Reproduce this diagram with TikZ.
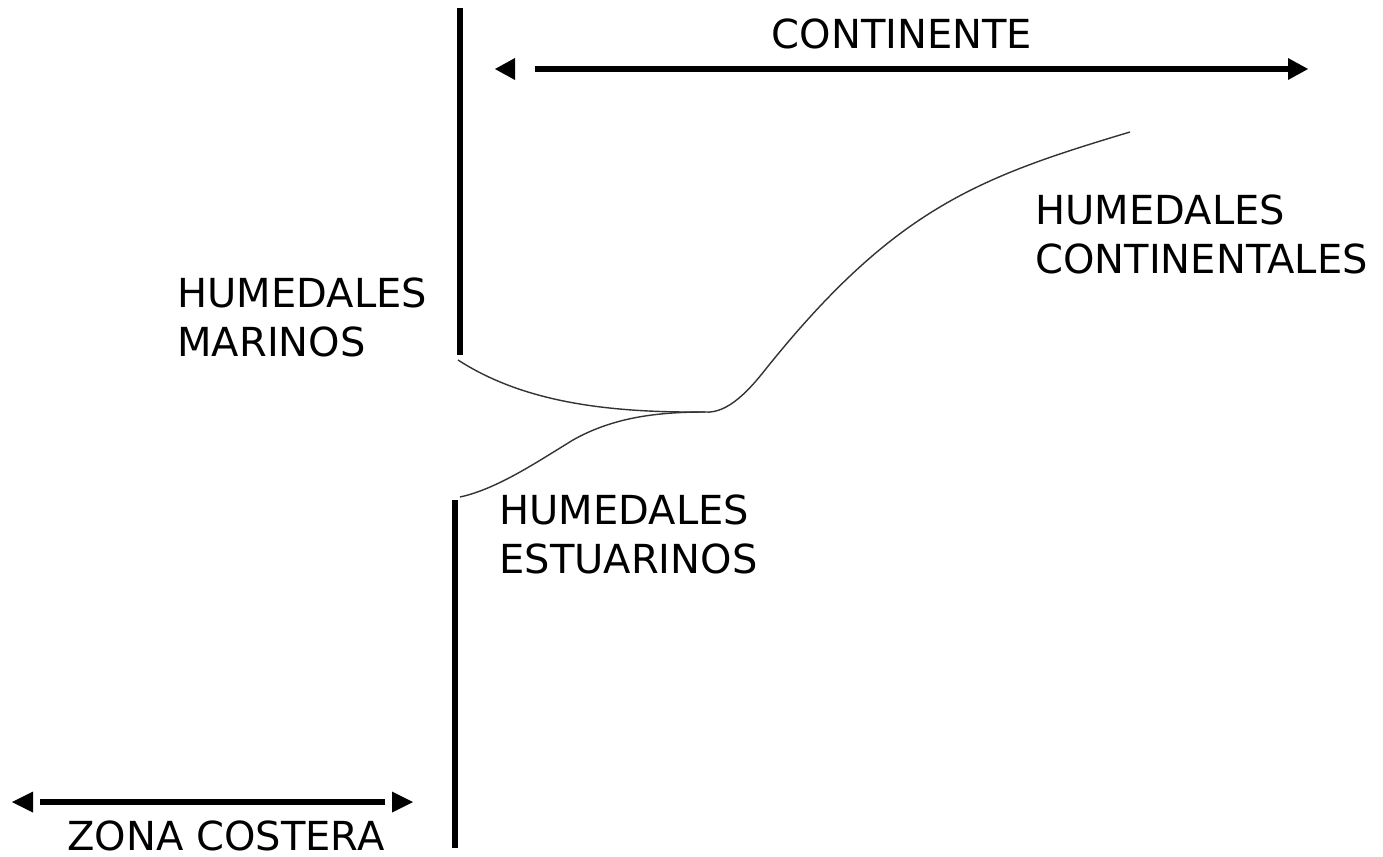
\documentclass[tikz,border=0pt]{standalone}
\usepackage{fontspec}
\setmainfont{DejaVu Sans}
\usetikzlibrary{arrows.meta}

\begin{document}
\begin{tikzpicture}[x=0.5pt,y=-0.5pt,
    bar/.style={line width=3pt},
    curv/.style={draw=black!80, line width=0.7pt},
    arr/.style={line width=3pt},
    head/.style={fill=black},
    lbl/.style={inner sep=0pt, align=left, font=\fontsize{20pt}{24.5pt}\selectfont}]
        \useasboundingbox (0,0) rectangle (1383,857);
        % costa
        \coordinate (mt) at (460,8);
        \coordinate (mb) at (460,355);
        \coordinate (et) at (455,500);
        \coordinate (eb) at (455,848);
        \draw[bar] (mt) -- (mb);
        \draw[bar] (et) -- (eb);
        % flechas
        \coordinate (cl) at (495,69);
        \coordinate (cs) at (535,69);
        \coordinate (cr) at (1308,69);
        \draw[arr, -{Triangle[length=10pt,width=11pt,line width=0pt]}] (cs) -- (cr);
        \fill[head] (cl) -- ++(20,-11) -- ++(0,22) -- cycle;
        \coordinate (zl) at (12,802);
        \coordinate (zs) at (40,802);
        \coordinate (ze) at (385,802);
        \coordinate (zr) at (413,802);
        \draw[arr] (zs) -- (ze);
        \fill[head] (zl) -- ++(21,-10.5) -- ++(0,21) -- cycle;
        \fill[head] (zr) -- ++(-21,-10.5) -- ++(0,21) -- cycle;
        % textos
        \node[lbl, anchor=north] (cont) at (902,18) {CONTINENTE};
        \node[lbl, anchor=north] (zona) at (226,820) {ZONA COSTERA};
        \node[lbl, anchor=north west] (mar) at (177,277) {HUMEDALES\\MARINOS};
        \node[lbl, anchor=north west] (est) at (499,494) {HUMEDALES\\ESTUARINOS};
        \node[lbl, anchor=north west] (contin) at (1035,194) {HUMEDALES\\CONTINENTALES};
        % curvas
        \coordinate (m0) at (458,360);
        \coordinate (e0) at (460,497);
        \coordinate (j) at (705,412);
        \coordinate (c0) at (1130,132);
        \draw[curv] (m0) .. controls (520,400) and (600,413) .. (j);
        \draw[curv] (e0) .. controls (497,489) and (537,462) .. (573,440)
            .. controls (612,418) and (655,412) .. (j);
        \draw[curv] (j) .. controls (728,414) and (750,389) .. (765,370)
            .. controls (895,207.5) and (980,177) .. (c0);
    \end{tikzpicture}
\end{document}
